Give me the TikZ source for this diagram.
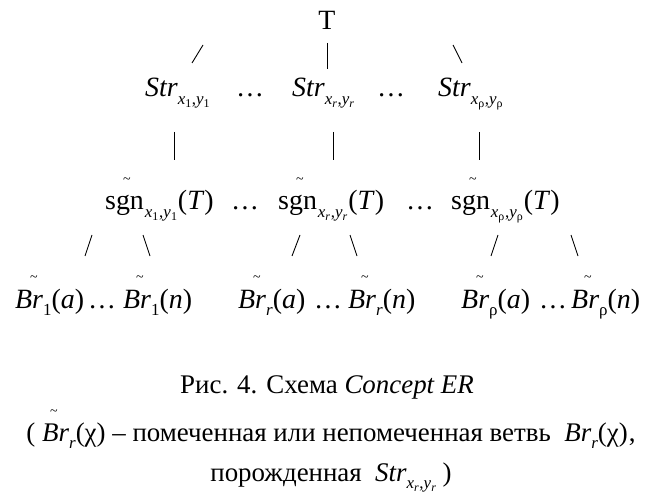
\documentclass[tikz,border=0pt]{standalone}
\usepackage{fontspec}
\setmainfont{Liberation Serif}
\usepackage{graphicx}
\newcommand\lo[1]{\raisebox{-0.28em}{\fontsize{17}{17}\selectfont #1}}
\newcommand\llo[1]{\raisebox{-0.18em}{\fontsize{12}{12}\selectfont #1}}
\newcommand\tl[1]{\rlap{\kern#1\raisebox{0.95em}{\fontsize{14}{14}\selectfont\textasciitilde}}}
\newcommand\Sone{\textit{Str}\lo{\textit{x}\llo{1}\kern0.6pt,\textit{y}\llo{1}}}
\newcommand\Sr{\textit{Str}\lo{\textit{x}\llo{\textit{r}}\kern0.6pt,\textit{y}\llo{\textit{r}}}}
\newcommand\Srho{\textit{Str}\lo{\textit{x}\llo{ρ}\kern0.6pt,\textit{y}\llo{ρ}}}
\begin{document}
\begin{tikzpicture}[x=1bp,y=-1bp,
  txt/.style={inner sep=0pt, anchor=base west, font=\fontsize{28}{28}\selectfont},
  ctr/.style={inner sep=0pt, anchor=base, font=\fontsize{28}{28}\selectfont},
  captxt/.style={inner sep=0pt, anchor=base, font=\fontsize{27}{27}\selectfont},
  conn/.style={line width=0.9bp}]
\useasboundingbox (0,0) rectangle (656,495);
% level 0
\node[ctr] (T) at (327,30) {T};
% level 1
\node[txt] (S1) at (145,97) {\Sone};
\node[ctr] (d1) at (250,97) {…};
\node[txt] (Sr) at (292,97) {\Sr};
\node[ctr] (d2) at (391,97) {…};
\node[txt] (Sp) at (438,97) {\Srho};
% level 2
\node[txt] (g1) at (105,210) {\tl{18bp}sgn\lo{\kern1pt\textit{x}\llo{1}\kern0.8pt,\textit{y}\llo{1}\kern1pt}(\textit{T})};
\node[ctr] (e1) at (245,210) {…};
\node[txt] (gr) at (278,210) {\tl{18bp}sgn\lo{\kern1pt\textit{x}\llo{\textit{r}}\kern0.8pt,\textit{y}\llo{\textit{r}}\kern1pt}(\textit{T})};
\node[ctr] (e2) at (420,210) {…};
\node[txt] (gp) at (451,210) {\tl{18bp}sgn\lo{\kern1pt\textit{x}\llo{ρ}\kern0.8pt,\textit{y}\llo{ρ}\kern1pt}(\textit{T})};
% level 3
\node[txt] (b1a) at (15,308) {\tl{15bp}\textit{Br}\lo{1}(\textit{a})};
\node[ctr] (f1) at (102,308) {…};
\node[txt] (b1n) at (123,308) {\tl{13bp}\textit{Br}\lo{1}(\textit{n})};
\node[txt] (bra) at (238,308) {\tl{15bp}\textit{Br}\lo{\textit{r}}(\textit{a})};
\node[ctr] (f2) at (328,308) {…};
\node[txt] (brn) at (348,308) {\tl{13bp}\textit{Br}\lo{\textit{r}}(\textit{n})};
\node[txt] (bpa) at (461,308) {\tl{15bp}\textit{Br}\lo{ρ}(\textit{a})};
\node[ctr] (f3) at (553,308) {…};
\node[txt] (bpn) at (571,308) {\tl{13bp}\textit{Br}\lo{ρ}(\textit{n})};
% connectors (short strokes)
\coordinate (a1) at (203,45); \coordinate (a2) at (192,63);
\coordinate (a3) at (327,43); \coordinate (a4) at (327,69);
\coordinate (a5) at (453,45); \coordinate (a6) at (462,63);
\draw[conn] (a1) -- (a2); \draw[conn] (a3) -- (a4); \draw[conn] (a5) -- (a6);
\coordinate (m1) at (174,132); \coordinate (m2) at (174,160);
\coordinate (m3) at (333,132); \coordinate (m4) at (333,160);
\coordinate (m5) at (479,132); \coordinate (m6) at (479,160);
\draw[conn] (m1) -- (m2); \draw[conn] (m3) -- (m4); \draw[conn] (m5) -- (m6);
\coordinate (p1) at (92,235); \coordinate (p2) at (85,256);
\coordinate (p3) at (143,235); \coordinate (p4) at (150,256);
\coordinate (p5) at (300,235); \coordinate (p6) at (292,256);
\coordinate (p7) at (350,235); \coordinate (p8) at (357,256);
\coordinate (p9) at (498,235); \coordinate (p10) at (491,256);
\coordinate (p11) at (571,235); \coordinate (p12) at (578,256);
\draw[conn] (p1) -- (p2); \draw[conn] (p3) -- (p4);
\draw[conn] (p5) -- (p6); \draw[conn] (p7) -- (p8);
\draw[conn] (p9) -- (p10); \draw[conn] (p11) -- (p12);
% caption
\node[captxt] (c1) at (327,393) {Рис. 4. Схема \textit{Concept ER}};
\node[captxt] (c2) at (331,441) {( \tl{8bp}\textit{Br}\lo{\textit{r}}(χ) – помеченная или непомеченная ветвь \ \textit{Br}\lo{\textit{r}}(χ)\kern1pt,};
\node[captxt] (c3) at (331,481) {порожденная \ \textit{Str}\lo{\textit{x}\llo{\textit{r}}\kern0.6pt,\textit{y}\llo{\textit{r}}} )};
\end{tikzpicture}
\end{document}
